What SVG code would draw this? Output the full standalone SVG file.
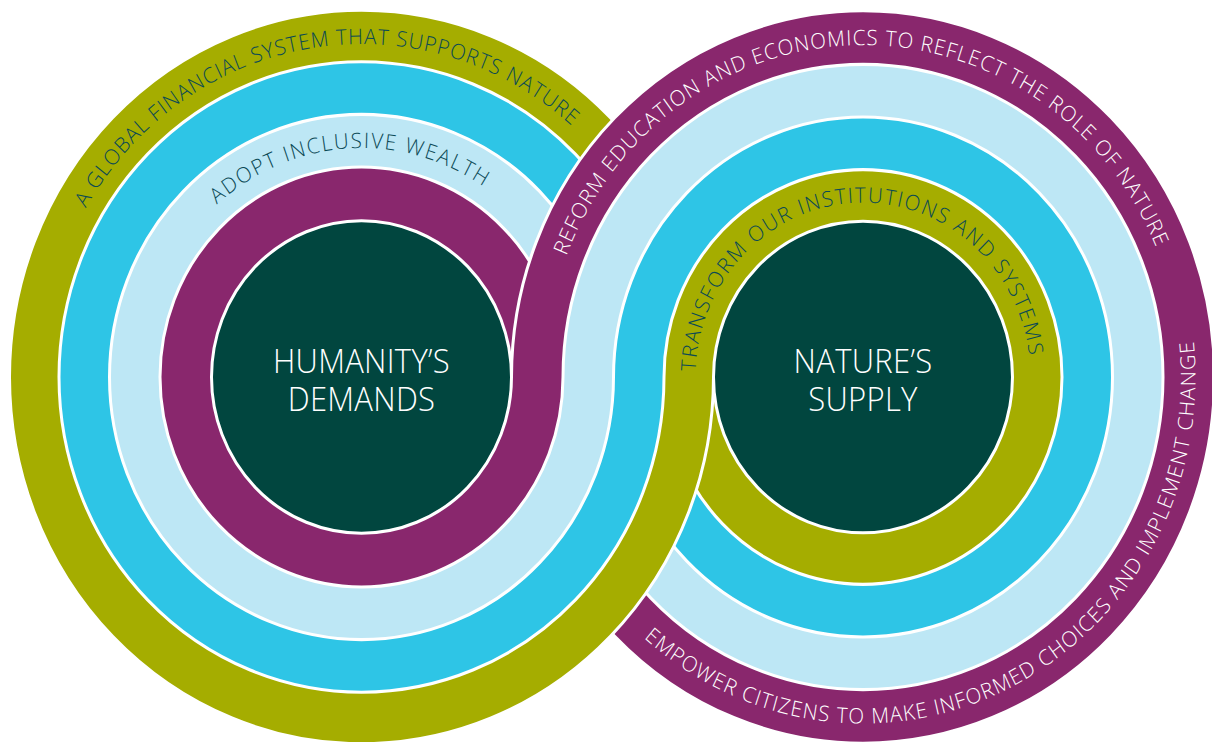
<svg xmlns="http://www.w3.org/2000/svg" xmlns:xlink="http://www.w3.org/1999/xlink" width="1212" height="742" viewBox="0 0 1212 742">
<style>
  .ring{stroke:#ffffff;stroke-width:3}
  .olive{fill:#a5ad00}
  .cyan{fill:#2ec5e6}
  .lb{fill:#bde7f5}
  .purple{fill:#89276d}
  .dark{fill:#01463f}
  .lbl{font-family:"Open Sans","Noto Sans","Liberation Sans",sans-serif;font-size:20.5px;font-weight:300}
  .onlight{fill:#0b4a55}
  .ondark{fill:#ffffff}
  .center{font-family:"Open Sans","Noto Sans","Liberation Sans",sans-serif;font-size:31px;font-weight:300;fill:#ffffff;text-anchor:middle;letter-spacing:0.3px}
</style>
<defs>
  <g id="leftRings">
    <circle class="ring olive" cx="361.5" cy="377" r="352"/>
    <circle class="ring cyan" cx="361.5" cy="377" r="302.5"/>
    <circle class="ring lb" cx="361.5" cy="377" r="252"/>
    <circle class="ring purple" cx="361.5" cy="377" r="201.5"/>
    <circle class="ring dark" cx="361.5" cy="377" r="150"/>
  </g>
  <g id="rightRings">
    <circle class="ring purple" cx="863" cy="377" r="351.5"/>
    <circle class="ring lb" cx="863" cy="377" r="300"/>
    <circle class="ring cyan" cx="863" cy="377" r="249.5"/>
    <circle class="ring olive" cx="863" cy="377" r="199"/>
    <circle class="ring dark" cx="863" cy="377" r="149.5"/>
  </g>
  <clipPath id="lowerHalf" clipPathUnits="userSpaceOnUse">
    <rect x="-10" y="377" width="1240" height="420"/>
  </clipPath>
  <path id="p1" d="M 47.22 316.76 A 320.25 320.25 0 0 1 640.97 221.13"/>
  <path id="p2" d="M 164.84 278.95 A 219.75 219.75 0 0 1 544.75 255.71"/>
  <path id="p3" d="M 545.38 353.40 A 318.5 318.5 0 0 1 1179.90 345.09"/>
  <path id="p4" d="M 695.55 380.95 A 167.5 167.5 0 0 1 1030.21 367.21"/>
  <path id="p5" d="M 582.41 555.41 A 332.5 332.5 0 0 0 1170.30 250.03"/>
</defs>
<g transform="matrix(1 0 0 1.042 0 -15.834)">
  <g id="humanity-rings"><use href="#leftRings"/></g>
  <g id="nature-rings"><use href="#rightRings"/></g>
  <g id="humanity-rings-front"><use href="#leftRings" clip-path="url(#lowerHalf)"/></g>

  <g id="humanity">
    <text class="center" x="361.5" y="373.2">HUMANITY’S</text>
    <text class="center" x="361.5" y="409.6">DEMANDS</text>
  </g>
  <g id="nature">
    <text class="center" x="863" y="373.2">NATURE’S</text>
    <text class="center" x="863" y="409.6">SUPPLY</text>
  </g>

  <g id="ring-labels">
    <text class="lbl onlight" letter-spacing="1.0"><textPath href="#p1" startOffset="50%" text-anchor="middle">A GLOBAL FINANCIAL SYSTEM THAT SUPPORTS NATURE</textPath></text>
    <text class="lbl onlight" letter-spacing="1.7"><textPath href="#p2" startOffset="50%" text-anchor="middle">ADOPT INCLUSIVE WEALTH</textPath></text>
    <text class="lbl ondark" letter-spacing="1.05"><textPath href="#p3" startOffset="50%" text-anchor="middle">REFORM EDUCATION AND ECONOMICS TO REFLECT THE ROLE OF NATURE</textPath></text>
    <text class="lbl onlight" letter-spacing="1.7"><textPath href="#p4" startOffset="50%" text-anchor="middle">TRANSFORM OUR INSTITUTIONS AND SYSTEMS</textPath></text>
    <text class="lbl ondark" letter-spacing="1.2"><textPath href="#p5" startOffset="50%" text-anchor="middle">EMPOWER CITIZENS TO MAKE INFORMED CHOICES AND IMPLEMENT CHANGE</textPath></text>
  </g>
</g>
</svg>
